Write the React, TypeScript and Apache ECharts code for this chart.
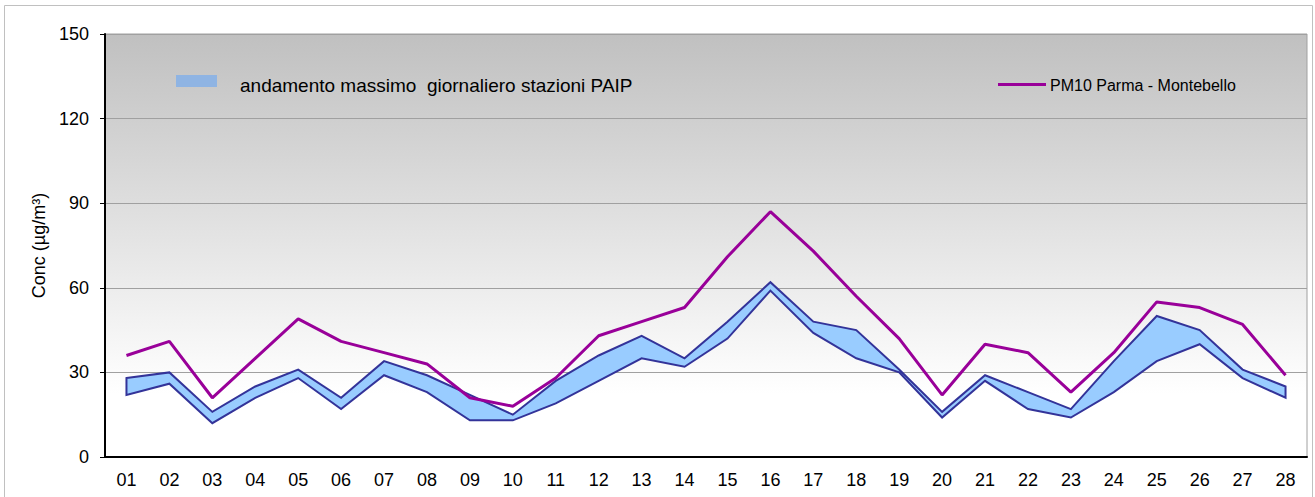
import React, { useEffect, useRef } from "react";
import * as echarts from "echarts";

const days = ["01","02","03","04","05","06","07","08","09","10","11","12","13","14","15","16","17","18","19","20","21","22","23","24","25","26","27","28"];
const pm10Parma = [36,41,21,35,49,41,37,33,21,18,28,43,48,53,71,87,73,57,42,22,40,37,23,37,55,53,47,29];
const paipMax = [28,30,16,25,31,21,34,29,22,15,27,36,43,35,48,62,48,45,31,16,29,23,17,34,50,45,31,25];
const paipMin = [22,26,12,21,28,17,29,23,13,13,19,27,35,32,42,59,44,35,30,14,27,17,14,23,34,40,28,21];
const yTicks = [0, 30, 60, 90, 120, 150];

const bandName = "andamento massimo  giornaliero stazioni PAIP";
const lineName = "PM10 Parma - Montebello";

export default function App() {
  const ref = useRef<HTMLDivElement>(null);
  useEffect(() => {
    if (!ref.current) return;
    const chart = echarts.init(ref.current, null, { renderer: "svg" });
    const font = "'Liberation Sans', Arial, sans-serif";
    chart.setOption({
      animation: false,
      textStyle: { fontFamily: font },
      grid: {
        left: 105,
        right: 8,
        top: 34,
        bottom: 40,
        show: true,
        borderColor: "#a0a0a0",
        borderWidth: 1,
        backgroundColor: new echarts.graphic.LinearGradient(0, 0, 0, 1, [
          { offset: 0, color: "#c0c0c0" },
          { offset: 0.85, color: "#ffffff" },
          { offset: 1, color: "#ffffff" },
        ]),
      },
      xAxis: {
        type: "category",
        data: days,
        boundaryGap: true,
        axisLine: { show: true, lineStyle: { color: "#000", width: 2 } },
        axisTick: { show: false },
        axisLabel: { color: "#000", fontSize: 18, margin: 14, fontFamily: font },
        splitLine: { show: false },
      },
      yAxis: {
        type: "value",
        min: yTicks[0],
        max: yTicks[yTicks.length - 1],
        interval: 30,
        name: "Conc (µg/m³)",
        nameLocation: "middle",
        nameGap: 56,
        nameTextStyle: { color: "#000", fontSize: 18, fontFamily: font },
        axisLine: { show: true, lineStyle: { color: "#000", width: 2 } },
        axisTick: { show: true, length: 5, lineStyle: { color: "#000" } },
        axisLabel: { color: "#000", fontSize: 18, margin: 16, fontFamily: font },
        splitLine: { show: true, lineStyle: { color: "#a0a0a0", width: 1 } },
      },
      series: [
        {
          name: bandName,
          type: "custom",
          data: [[0]],
          z: 2,
          renderItem: (params: any, api: any) => {
            const pts: number[][] = [];
            for (let i = 0; i < days.length; i++) pts.push(api.coord([i, paipMax[i]]));
            for (let i = days.length - 1; i >= 0; i--) pts.push(api.coord([i, paipMin[i]]));
            return {
              type: "polygon",
              shape: { points: pts },
              style: { fill: "#99ccff", stroke: "#333399", lineWidth: 2, lineJoin: "miter" },
            };
          },
        },
        {
          name: lineName,
          type: "line",
          data: pm10Parma,
          z: 3,
          symbol: "none",
          lineStyle: { color: "#990099", width: 3 },
          itemStyle: { color: "#990099" },
        },
      ],
      graphic: [
        {
          type: "rect",
          shape: { x: 4.5, y: 5.5, width: 1308, height: 500 },
          style: { fill: "none", stroke: "#c0c0c0", lineWidth: 1 },
          silent: true,
          z: -10,
        },
        {
          type: "rect",
          shape: { x: 176, y: 75, width: 41, height: 12 },
          style: { fill: "#8fb4e3" },
          z: 10,
        },
        {
          type: "text",
          x: 240,
          y: 85,
          style: { text: bandName, fill: "#000", fontSize: 19, fontFamily: font, verticalAlign: "middle" },
          z: 10,
        },
        {
          type: "line",
          shape: { x1: 998, y1: 84.5, x2: 1046, y2: 84.5 },
          style: { stroke: "#990099", lineWidth: 3 },
          z: 10,
        },
        {
          type: "text",
          x: 1050,
          y: 85,
          style: { text: lineName, fill: "#000", fontSize: 16, fontFamily: font, verticalAlign: "middle" },
          z: 10,
        },
      ],
    });
    return () => chart.dispose();
  }, []);
  return (
    <div
      ref={ref}
      style={{ position: "absolute", left: 0, top: 0, width: 1315, height: 497, background: "#fff" }}
    />
  );
}
